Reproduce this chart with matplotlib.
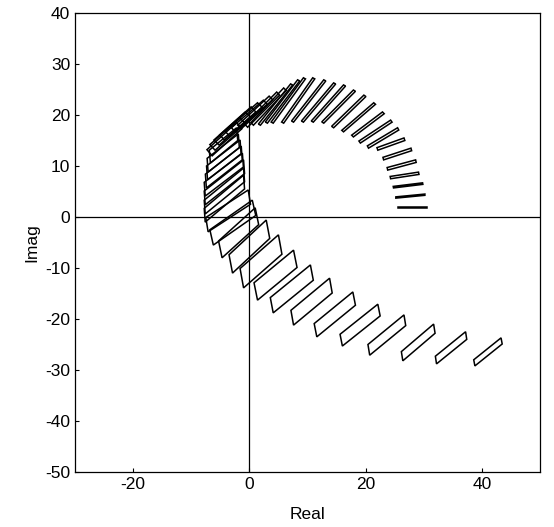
import numpy as np
import matplotlib.pyplot as plt
from matplotlib.patches import Polygon

plt.rcParams['font.family'] = ['Liberation Sans', 'DejaVu Sans']
plt.rcParams['axes.unicode_minus'] = False

# template corners (data units)
# bl = lowest/left corner, tr = opposite corner, s = short edge from bl
bl_re = [38.8, 32.2, 26.4, 20.7, 16.0, 11.6, 7.6, 4.1, 1.4, -1.0, -2.9, -4.7, -6.2, -7.1,
         -7.6, -7.6, -7.6, -7.6, -7.4, -7.2, -7.1, -6.7, -6.4,
         -5.9, -5.2, -4.3, -3.4, -2.4, -1.4, -0.3, 0.7,
         1.9, 3.1, 4.1, 5.9, 7.6, 9.3, 11.0, 12.8, 14.5, 16.2, 17.9, 19.1, 20.5,
         22.1, 23.1, 23.8, 24.3, 24.8, 25.2, 25.5]
bl_im = [-29.2, -28.8, -28.2, -27.1, -25.3, -23.5, -21.2, -18.8, -16.3, -13.9, -11.0, -8.0, -5.5, -2.9,
         -1.0, 0.6, 2.4, 4.1, 5.7, 7.3, 8.8, 10.6, 12.0,
         13.1, 14.1, 15.1, 15.9, 16.7, 17.3, 17.6, 18.0,
         18.0, 18.4, 18.4, 18.4, 18.6, 18.6, 18.6, 18.4, 17.5, 16.7, 15.7, 14.5, 13.5,
         13.1, 11.2, 9.2, 7.5, 5.7, 3.7, 1.8]
tr_re = [43.3, 37.2, 31.7, 26.6, 22.1, 17.8, 13.8, 10.5, 7.6, 5.0, 2.9, 1.0, 0.5, -0.2,
         -1.0, -1.0, -1.0, -1.2, -1.4, -1.6, -1.9, -2.2, -2.2,
         -1.6, -0.7, 0.3, 1.4, 2.4, 3.4, 4.7, 5.9,
         7.1, 8.3, 9.3, 10.9, 12.8, 14.5, 16.2, 17.9, 19.7, 21.4, 22.9, 24.3, 25.5,
         26.6, 27.8, 28.6, 29.1, 29.8, 30.2, 30.5]
tr_im = [-23.7, -22.5, -21.0, -19.2, -17.1, -14.7, -12.0, -9.4, -6.5, -3.5, -0.6, 1.8, 3.3, 5.3,
         8.2, 9.6, 11.2, 12.5, 13.9, 15.1, 16.3, 17.5, 18.5,
         19.4, 20.6, 21.6, 22.4, 22.9, 23.7, 24.5, 25.3,
         26.1, 26.9, 27.3, 27.3, 26.9, 26.3, 25.9, 24.9, 23.9, 22.4, 20.6, 19.0, 17.5,
         15.5, 13.5, 11.2, 8.8, 6.7, 4.5, 2.0]
s_re = [-0.2, -0.2, -0.25, -0.3, -0.4, -0.45, -0.45, -0.5, -0.6, -0.6, -0.6, -0.6, -0.6, -0.4,
        -0.17, -0.17, -0.17, -0.17, -0.17, -0.17, -0.17, -0.2, -0.9,
        -0.9, -0.9, -0.8, -0.8, -0.7, -0.6, -0.5, -0.45,
        -0.35, -0.35, -0.35, -0.35, -0.35, -0.35, -0.35, -0.35, -0.35, -0.3, -0.3, -0.25, -0.2,
        -0.15, -0.12, -0.1, -0.08, -0.05, 0.0, 0.0]
s_im = [1.2, 1.5, 1.8, 2.1, 2.3, 2.6, 2.9, 3.0, 3.4, 3.8, 3.6, 3.3, 3.0, 2.8,
        2.7, 2.7, 2.7, 2.7, 2.7, 2.7, 2.7, 2.5, 1.2,
        1.1, 1.0, 1.0, 0.9, 0.8, 0.7, 0.6, 0.5,
        0.22, 0.22, 0.22, 0.22, 0.22, 0.22, 0.22, 0.25, 0.28, 0.3, 0.35, 0.4, 0.45,
        0.5, 0.5, 0.5, 0.45, 0.3, 0.25, 0.2]

fig = plt.figure(figsize=(5.54, 5.27), dpi=100)
ax = fig.add_axes([0.1354, 0.1044, 0.8393, 0.8709])

for i in range(len(bl_re)):
    p0 = np.array([bl_re[i], bl_im[i]])
    p2 = np.array([tr_re[i], tr_im[i]])
    s = np.array([s_re[i], s_im[i]])
    l = p2 - p0 - s
    pts = [p0, p0 + l, p2, p0 + s]
    ax.add_patch(Polygon(pts, closed=True, fill=False, edgecolor='black', linewidth=1.1))

ax.axhline(0, color='black', linewidth=0.9)
ax.axvline(0, color='black', linewidth=0.9)

ax.set_xlim(-30, 50)
ax.set_ylim(-50, 40)
ax.set_xticks([-20, 0, 20, 40])
ax.set_yticks(np.arange(-50, 41, 10))
ax.tick_params(direction='in', length=3, labelsize=12.5, width=0.8)
for sp in ax.spines.values():
    sp.set_linewidth(0.9)
ax.set_xlabel('Real', fontsize=12.5)
ax.set_ylabel('Imag', fontsize=12.5, labelpad=4)
ax.xaxis.set_label_coords(0.5, -0.077)

fig.savefig('out.png', dpi=100)
plt.close()
